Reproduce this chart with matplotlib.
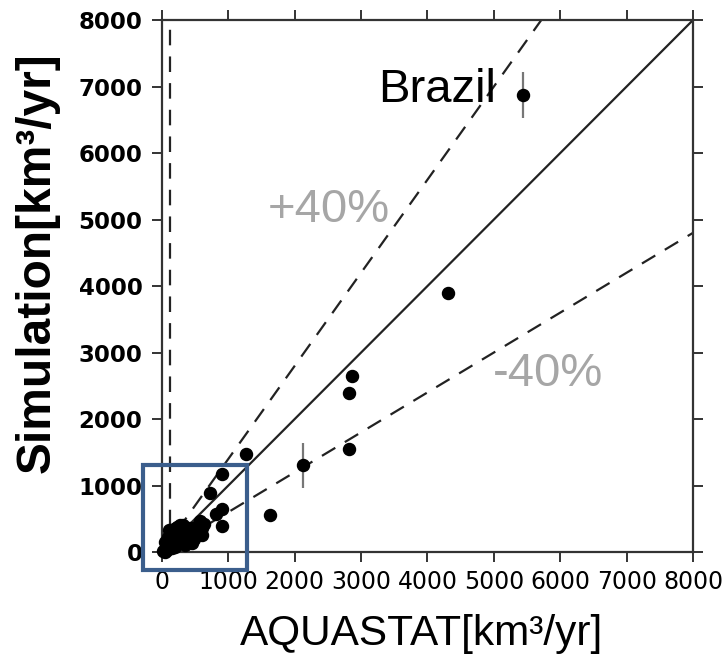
import numpy as np
import matplotlib
matplotlib.use('Agg')
import matplotlib.pyplot as plt
from matplotlib.patches import Rectangle

# AQUASTAT vs simulation (km3/yr)
obs_x = [30, 60, 80, 100, 120, 150, 170, 200, 220, 250, 280, 300, 330, 350, 380,
         420, 450, 500, 520, 560, 600, 50, 90, 130, 180, 230, 270, 310, 200, 260,
         320, 400, 40, 10, 70, 150, 240, 480, 350, 110, 190, 640, 580,
         447, 598, 899, 814, 899, 723, 909, 1266, 1628, 2120, 2818, 2818, 2859,
         4310, 5436]
sim_y = [20, 50, 100, 60, 150, 120, 200, 180, 250, 300, 350, 280, 380, 320, 250,
         360, 300, 330, 380, 270, 360, 150, 220, 280, 340, 380, 400, 410, 80, 150,
         200, 180, 0, 10, 30, 60, 220, 200, 100, 330, 300, 420, 460,
         135, 256, 391, 571, 647, 887, 1173, 1474, 556, 1308, 1549, 2391, 2647,
         3895, 6873]

# points with uncertainty bars
err_x = [2120, 5436]
err_lo = [963, 6527]
err_hi = [1639, 7219]

ticks = [0, 1000, 2000, 3000, 4000, 5000, 6000, 7000, 8000]

fig = plt.figure(figsize=(7.25, 6.61), dpi=100)
ax = fig.add_axes([0.2234, 0.1649, 0.7325, 0.8048])

ax.set_xlim(0, 8000)
ax.set_ylim(0, 8000)

line = np.array([0, 8000])
ax.plot(line, line, color='#222222', lw=1.6)
ax.plot(line, 1.4 * line, color='#222222', lw=1.6, ls=(0, (7, 5)))
ax.plot(line, 0.6 * line, color='#222222', lw=1.6, ls=(0, (7, 5)))
ax.axvline(120, color='#222222', lw=1.6, ls=(0, (7, 5)))

ax.vlines(err_x, err_lo, err_hi, color='#777777', lw=1.6, zorder=3)
ax.scatter(obs_x, sim_y, s=75, color='black', zorder=4, clip_on=False)

gray = '#a6a6a6'
ax.text(3255, 6768, 'Brazil', fontsize=34, family='Liberation Sans', color='black',
        ha='left', va='baseline')
ax.text(1597, 4963, '+40%', fontsize=34, family='Liberation Sans', color=gray,
        ha='left', va='baseline')
ax.text(4988, 2497, '-40%', fontsize=34, family='Liberation Sans', color=gray,
        ha='left', va='baseline')

# highlight box round the small values
ax.add_patch(Rectangle((-279, -271), 1567, 1579, fill=False, ec='#3b5e8c', lw=3,
                       clip_on=False, zorder=5))

ax.set_xticks(ticks)
ax.set_yticks(ticks)
ax.tick_params(direction='out', length=7, width=1.4, color='#333333',
               top=True, right=True)
ax.tick_params(axis='x', pad=6, labelsize=17)
ax.tick_params(axis='y', pad=7, labelsize=16.5)
for lab in ax.get_yticklabels():
    lab.set_fontweight('bold')
for s in ax.spines.values():
    s.set_linewidth(1.6)
    s.set_color('#333333')

fig.text(0.581, 0.024, 'AQUASTAT[km³/yr]', fontsize=30.5, family='Liberation Sans',
         ha='center', va='baseline')
fig.text(0.051, 0.602, 'Simulation[km³/yr]', fontsize=34.5, family='Liberation Sans',
         fontweight='bold', rotation=90, ha='center', va='center')

fig.savefig('out.png', dpi=100)
